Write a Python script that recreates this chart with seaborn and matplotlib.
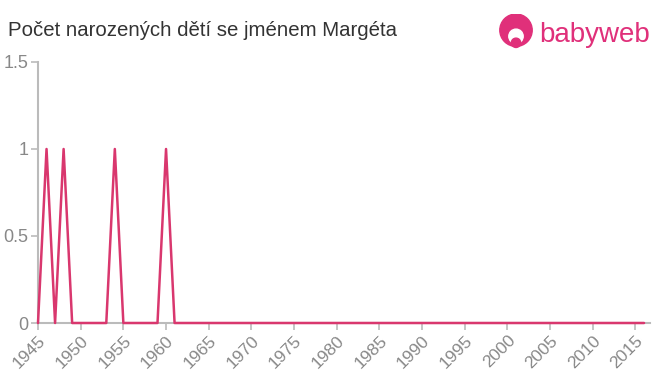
import numpy as np
import pandas as pd
import matplotlib
matplotlib.use("Agg")
import matplotlib.pyplot as plt
import seaborn as sns
from matplotlib.patches import Circle

years = list(range(1945, 2017))
births = [0] * len(years)
for y in (1946, 1948, 1954, 1960):
    births[years.index(y)] = 1

x_ticks = list(range(1945, 2016, 5))
y_ticks = [0, 0.5, 1, 1.5]
y_labels = ["0", "0.5", "1", "1.5"]

df = pd.DataFrame({"rok": years, "pocet": births})

sns.set_style("white")
plt.rcParams["font.family"] = ["Liberation Sans", "DejaVu Sans"]

fig = plt.figure(figsize=(6.6, 3.75), dpi=100)
ax = fig.add_axes([38 / 660, 1 - 323 / 375, (650 - 38) / 660, (323 - 62) / 375])

sns.lineplot(data=df, x="rok", y="pocet", ax=ax, color="#d9376e", linewidth=1.8)
for ln in ax.lines:
    ln.set_zorder(5)
    ln.set_clip_on(False)

ax.set_xlim(1945, 2016.7)
ax.set_ylim(0, 1.5)
ax.set_xticks(x_ticks)
ax.set_xticklabels([str(t) for t in x_ticks], rotation=45, ha="right",
                   rotation_mode="anchor", color="#888888", fontsize=12.5)
ax.set_yticks(y_ticks)
ax.set_yticklabels(y_labels, color="#888888", fontsize=13)
ax.set_xlabel("")
ax.set_ylabel("")
for s in ("top", "right"):
    ax.spines[s].set_visible(False)
for s in ("left", "bottom"):
    ax.spines[s].set_color("#bbbbbb")
    ax.spines[s].set_linewidth(1.5)
    ax.spines[s].set_zorder(1)
ax.tick_params(axis="both", length=5, width=1.2, color="#bbbbbb", pad=2, direction="out")
ax.tick_params(axis="x", bottom=True)
ax.tick_params(axis="y", left=True)

fig.text(8 / 660, 1 - 30 / 375, "Počet narozených dětí se jménem Margéta",
         fontsize=14.7, color="#333333", va="center", ha="left")

# logo
logo_ax = fig.add_axes([498 / 660, 1 - 50 / 375, 36 / 660, 36 / 375])
logo_ax.set_xlim(0, 1)
logo_ax.set_ylim(0, 1)
logo_ax.set_aspect("equal")
logo_ax.axis("off")
logo_ax.add_patch(Circle((0.5, 0.55), 0.45, color="#e0307a"))
logo_ax.add_patch(Circle((0.5, 0.38), 0.2, color="white"))
logo_ax.add_patch(Circle((0.5, 0.2), 0.13, color="#e0307a"))
fig.text(539 / 660, 1 - 35 / 375, "babyweb", fontsize=20, color="#e0307a",
         va="center", ha="left")

fig.savefig("out.png", dpi=100)
